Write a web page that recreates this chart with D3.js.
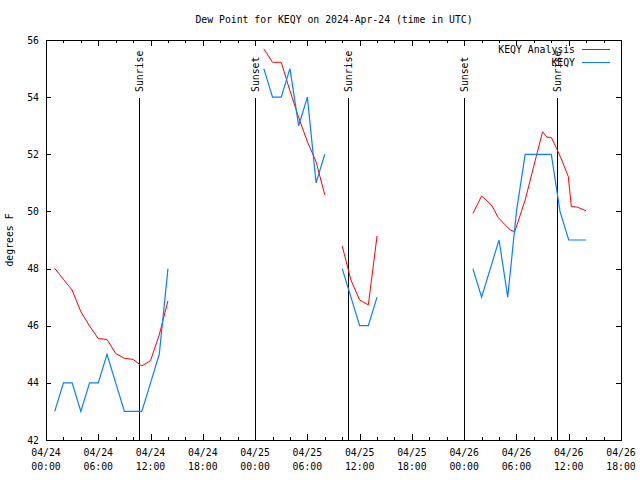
<!DOCTYPE html>
<html>
<head>
<meta charset="utf-8">
<script src="https://cdn.jsdelivr.net/npm/d3@7"></script>
<style>
  html, body { margin: 0; padding: 0; background: #fff; }
  svg { display: block; }
  text { font-family: "DejaVu Sans Mono", "Liberation Mono", monospace; font-size: 9.8px; fill: #000; }
</style>
</head>
<body>
<svg id="chart" width="640" height="480"></svg>
<script>
// ---- Data (hours after 2024-04-24 00:00 UTC) ----
const titleText = "Dew Point for KEQY on 2024-Apr-24 (time in UTC)";
const yLabel = "degrees F";
const seriesNames = ["KEQY Analysis", "KEQY"];

// Analysis (red) - segments separated by null
const analysisHours = [1,2,3,4,5,6,7,8,9,10,11,12,13,14, null,
  25,26,27,28,29,30,31,32, null,
  34,35,36,37,38, null,
  49,50,50.6,51.2,51.9,52.7,53.3,53.8,55,56,57,57.5,58,58.6,59.2,59.95,60.3,61,62];
const analysisValues = [48.01,47.62,47.25,46.49,45.99,45.55,45.52,45.03,44.86,44.82,44.59,44.78,45.68,46.87, null,
  55.69,55.22,55.22,54.22,53.29,52.44,51.74,50.58, null,
  48.79,47.6,46.9,46.73,49.14, null,
  49.93,50.54,50.38,50.19,49.79,49.53,49.35,49.29,50.4,51.6,52.79,52.6,52.59,52.21,51.8,51.22,50.17,50.15,50.02];

// Observations (blue)
const obsHours = [1,2,3,4,5,6,7,8,9,10,11,12,13,14, null,
  25,26,27,28,29,30,31,32, null,
  34,35,36,37,38, null,
  49,50,51,52,53,54,55,56,57,58,59,60,61,62];
const obsValues = [43,44,44,43,44,44,45,44,43,43,43,44,45,48, null,
  55,54,54,55,53,54,51,52, null,
  48,47,46,46,47, null,
  48,47,48,49,47,50,52,52,52,52,50,49,49,49];

// Sun events
const eventHours = [10.67, 23.98, 34.65, 47.97, 58.63];
const eventLabels = ["Sunrise", "Sunset", "Sunrise", "Sunset", "Sunrise"];

const yTicks = [42,44,46,48,50,52,54,56];
const xMajorStepHours = 6;
const xMinorStepHours = 2;

// ---- Layout ----
const svg = d3.select("#chart");
const L = 46, R = 621, T = 40, B = 440;
const t0 = Date.UTC(2024, 3, 24, 0);
const hr = h => new Date(t0 + h * 3600e3);

const x = d3.scaleUtc().domain([hr(0), hr(66)]).range([L, R]);
const y = d3.scaleLinear().domain([42, 56]).range([B, T]);

const majorTicks = d3.range(0, 66.01, xMajorStepHours).map(hr);
const minorTicks = d3.range(0, 66.01, xMinorStepHours).filter(h => h % xMajorStepHours !== 0).map(hr);

// Title
svg.append("text").attr("x", 334).attr("y", 23).attr("text-anchor", "middle").text(titleText);

// Y label
svg.append("text").attr("transform", "translate(13,240) rotate(-90)")
  .attr("text-anchor", "middle").text(yLabel);

// Axes (ticks pointing inward)
const gB = svg.append("g").attr("transform", `translate(0,${B})`)
  .call(d3.axisBottom(x).tickValues(majorTicks).tickSize(-6).tickFormat(() => ""));
const gBm = svg.append("g").attr("transform", `translate(0,${B})`)
  .call(d3.axisBottom(x).tickValues(minorTicks).tickSize(-3).tickFormat(() => ""));
const gT = svg.append("g").attr("transform", `translate(0,${T})`)
  .call(d3.axisTop(x).tickValues(majorTicks).tickSize(-6).tickFormat(() => ""));
const gTm = svg.append("g").attr("transform", `translate(0,${T})`)
  .call(d3.axisTop(x).tickValues(minorTicks).tickSize(-3).tickFormat(() => ""));
const gL = svg.append("g").attr("transform", `translate(${L},0)`)
  .call(d3.axisLeft(y).tickValues(yTicks).tickSize(-5).tickPadding(7).tickFormat(d3.format("d")));
const gR = svg.append("g").attr("transform", `translate(${R},0)`)
  .call(d3.axisRight(y).tickValues(yTicks).tickSize(-5).tickFormat(() => ""));

[gB, gBm, gT, gTm, gL, gR].forEach(g => {
  g.select(".domain").remove();
  g.selectAll("line").attr("stroke", "#000").attr("shape-rendering", "crispEdges");
  g.selectAll("text").attr("font-family", null).attr("font-size", null).style("fill", "#000");
});

// X tick labels (two lines)
const fmtD = d3.utcFormat("%m/%d"), fmtT = d3.utcFormat("%H:%M");
const xl = svg.append("g");
majorTicks.forEach(d => {
  const tx = xl.append("text").attr("x", x(d)).attr("y", 456).attr("text-anchor", "middle");
  tx.append("tspan").attr("x", x(d)).text(fmtD(d));
  tx.append("tspan").attr("x", x(d)).attr("dy", 14).text(fmtT(d));
});

// Border
svg.append("rect").attr("x", L).attr("y", T).attr("width", R - L).attr("height", B - T)
  .attr("fill", "none").attr("stroke", "#000").attr("shape-rendering", "crispEdges");

// Sun events
eventHours.forEach((h, i) => {
  const ex = Math.round(x(hr(h))) + 0.5;
  svg.append("line").attr("x1", ex).attr("x2", ex).attr("y1", 98).attr("y2", B)
    .attr("stroke", "#000");
  svg.append("text").attr("transform", `translate(${ex},92) rotate(-90)`)
    .attr("dy", "0.35em").attr("text-anchor", "start").text(eventLabels[i]);
});

// Lines
function makePts(hs, vs) { return hs.map((h, i) => ({ h, v: vs[i] })); }
const line = d3.line().defined(d => d.h !== null && d.v !== null)
  .x(d => x(hr(d.h))).y(d => y(d.v));

svg.append("path").datum(makePts(analysisHours, analysisValues))
  .attr("d", line).attr("fill", "none").attr("stroke", "#ff0000").attr("stroke-width", 1);
svg.append("path").datum(makePts(obsHours, obsValues))
  .attr("d", line).attr("fill", "none").attr("stroke", "#0a80ff").attr("stroke-width", 1.2);

// Legend
const legColors = ["#ff0000", "#0a80ff"];
seriesNames.forEach((n, i) => {
  const ly = 49.5 + i * 13;
  svg.append("text").attr("x", 575).attr("y", ly).attr("dy", "0.35em").attr("text-anchor", "end").text(n);
  svg.append("line").attr("x1", 582).attr("x2", 610).attr("y1", ly).attr("y2", ly)
    .attr("stroke", legColors[i]).attr("stroke-width", 1);
});
</script>
</body>
</html>
